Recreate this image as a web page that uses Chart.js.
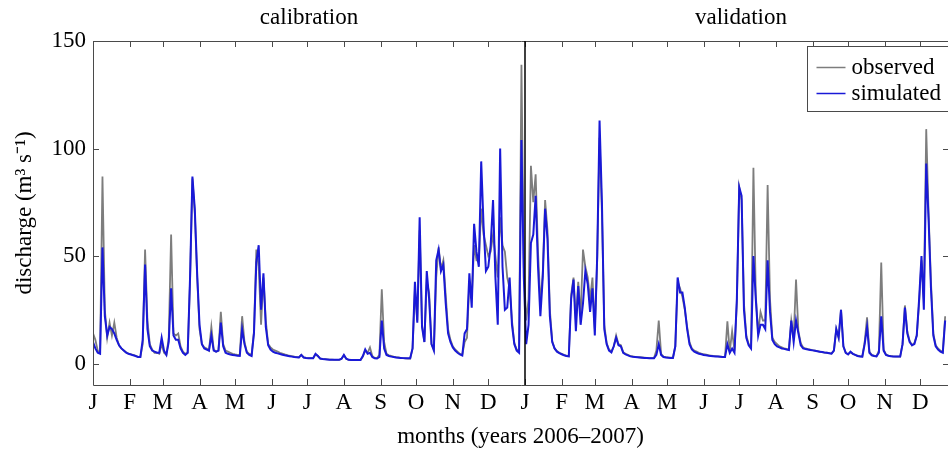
<!DOCTYPE html>
<html>
<head>
<meta charset="utf-8">
<script src="https://cdn.jsdelivr.net/npm/chart.js@4.4.1/dist/chart.umd.min.js"></script>
<style>
html, body { margin: 0; padding: 0; background: #fff; }
</style>
</head>
<body>
<canvas id="flowChart" width="948" height="453"></canvas>
<script>
// month tick labels and the day (from 1 Jan 2006) each month starts on
const monthLabels = ['J','F','M','A','M','J','J','A','S','O','N','D','J','F','M','A','M','J','J','A','S','O','N','D'];
const monthStartDays = [0,31,59,90,120,151,181,212,243,273,304,334,365,396,424,455,485,516,546,577,608,638,669,699];
const yTicks = [0, 50, 100, 150];
const periodLabels = ['calibration', 'validation'];
const splitDay = 365;
const sampleStep = 2; // days between values below

// discharge, one value every 2 days from 1 Jan 2006
const simulated = [
  10,7,5,4.5,54,22,13,17,16,14,
  11,8.5,7,6,5,4.5,4.2,3.8,3.5,3,
  3,11,46,16,8,6,5.5,5,5,12,
  6,4,10,35,13,11,11,7,5,4,
  5,40,87,72,42,18,9,7,6.5,6,
  13,6,5.5,6,19,8,5,4.5,4.2,4,
  3.8,3.6,3.5,16,9,5,4,3.5,14,47,
  55,25,42,17,8.5,6.5,5.5,5,4.7,4.4,
  4.1,3.8,3.6,3.4,3.2,3,2.9,2.8,4,2.8,
  2.6,2.5,2.5,2.5,4.5,3.5,2.3,2.1,2,1.9,
  1.8,1.8,1.7,1.7,1.7,2.2,4,2.2,1.7,1.6,
  1.6,1.6,1.6,1.6,3.5,6.5,4.5,5,3,2.4,
  2.3,3,20,7,4,3.5,3.2,3,2.8,2.7,
  2.6,2.5,2.4,2.4,2.4,7,38,19,68,17,
  10,43,30,9,6,48,53,43,46,28,
  14,10,7.5,6,5,4.2,3.7,14,16,42,
  26,65,52,45,94,64,43,45,55,76,
  40,18,100,45,25,26,40,18,9,6,
  5,104,40,9,18,56,60,78,45,22,
  40,72,58,22,10,7,5.5,4.8,4.3,3.8,
  3.5,3.3,30,39,15,36,18,28,43,37,
  24,35,13,50,113,75,16,9,6,5.2,
  8,12,8.5,8,5,4.2,3.8,3.3,3.1,3,
  2.9,2.8,2.7,2.6,2.6,2.5,2.5,2.5,4,9,
  4,3,2.8,2.7,2.6,2.6,8,40,33,33,
  26,16,9,6.5,5.5,5,4.5,4.3,4,3.8,
  3.6,3.5,3.4,3.3,3.2,3.1,3,3,9,5,
  7,5,30,82,78,25,12,8.5,7,50,
  30,13,18,18,16,48,24,11,9,8,
  7.5,7,6.8,6.5,6.3,20,10,20,14,8.5,
  7,6.7,6.5,6.3,6.1,5.9,5.7,5.5,5.3,5.1,
  5,4.8,4.6,6,16,12,25,8,5,4.2,
  5.5,4.5,4,3.5,3.3,3.2,9,17,5,3.8,
  3.5,3.3,5,22,6,4,3.6,3.4,3.3,3.2,
  3.2,3.2,9,26,14,10,8.5,9,13,30,
  50,25,93,67,35,13,8,6.5,5.5,5,
  20
];
const observed = [
  14,11,6,5,87,25,12,19,13,19,
  12,8.5,7,6,5.2,4.6,4.3,4,3.6,3.2,
  3,9,53,20,9,6.5,5,5,4.5,9,
  5,4,12,60,14,13,14,8,5.5,4.5,
  5,38,86,70,40,16,9,7.5,7,6,
  17,6.5,5.5,6,24,9,6,5.5,5,4.5,
  4.2,4,4,22,10,5.5,4.5,4,15,53,
  45,18,40,20,9,7.5,6.5,6,5.5,5,
  4.6,4.2,3.9,3.6,3.4,3.2,3,2.9,4,2.8,
  2.6,2.5,2.5,2.5,4.2,3.5,2.3,2.1,2,1.9,
  1.8,1.8,1.7,1.7,1.7,2.2,3.8,2.2,1.7,1.6,
  1.6,1.6,1.6,1.6,3.2,6,5,7.5,3.5,2.6,
  2.5,4,34.5,10,4.5,3.8,3.5,3.2,3,2.8,
  2.6,2.5,2.4,2.3,2.3,7,34,20,62,18,
  10,38,33,9,6.5,40,54,44,48,32,
  16,11,8,6.5,5.5,4.5,4,10,12,38,
  30,55,48,48,72,60,55,50,52,60,
  50,40,68,55,52,40,35,20,9.5,6.5,
  6,139,45,20,30,92,75,88,52,28,
  42,76,62,25,10.5,7,5.8,5,4.5,4,
  3.6,3.4,32,40,20,38,22,53,45,40,
  30,40,16,48,105,70,18,9.5,6.5,5.5,
  8,13,9,8.5,5.2,4.5,4,3.5,3.3,3.1,
  3,2.9,2.8,2.7,2.6,2.5,2.5,2.5,6,20,
  4.5,3.2,3,2.8,2.7,2.7,8,38,35,31,
  25,17,10,7,6,5.5,5,4.6,4.3,4.1,
  3.9,3.7,3.5,3.4,3.3,3.2,3.1,3,19.6,5.5,
  15,6,28,82,76,28,13,9,7.5,91,
  32,14,24,20,20,83,30,12,10,9,
  8,7.5,7,6.8,6.5,20,12,39,15,9.5,
  7.5,7,6.7,6.5,6.2,6,5.8,5.5,5.3,5.1,
  5,4.8,4.6,6,16,12,25,8,5,4.3,
  5.2,4.5,4,3.6,3.4,3.3,10,21.5,5.5,4,
  3.6,3.4,6,47,6.5,4.2,3.7,3.5,3.3,3.2,
  3.2,3.2,9,27,15,10.5,8.5,9.5,13,28,
  48,30,109,70,38,14,8.5,7,6,5.3,
  22
];

const FONT = '"Liberation Serif", "Times New Roman", serif';
const toPoints = arr => arr.map((v, i) => ({ x: i * sampleStep, y: v }));

// box, inward ticks, split line, period titles and legend (matlab look)
const framePlugin = {
  id: 'frame',
  afterDraw(chart) {
    const { ctx, chartArea: a, scales: { x, y } } = chart;
    const tl = 6;
    ctx.save();
    ctx.strokeStyle = '#4a4a4a';
    ctx.lineWidth = 1;
    ctx.beginPath();
    ctx.moveTo(a.right + 2, a.top + 0.5);
    ctx.lineTo(a.left + 0.5, a.top + 0.5);
    ctx.lineTo(a.left + 0.5, a.bottom + 0.5);
    ctx.lineTo(a.right + 2, a.bottom + 0.5);
    x.ticks.forEach(t => {
      const px = Math.round(x.getPixelForValue(t.value)) + 0.5;
      ctx.moveTo(px, a.bottom); ctx.lineTo(px, a.bottom - tl);
      ctx.moveTo(px, a.top); ctx.lineTo(px, a.top + tl);
    });
    y.ticks.forEach(t => {
      const py = Math.round(y.getPixelForValue(t.value)) + 0.5;
      ctx.moveTo(a.left, py); ctx.lineTo(a.left + tl, py);
      ctx.moveTo(a.right + 1, py); ctx.lineTo(a.right + 1 - tl, py);
    });
    ctx.stroke();

    const xs = x.getPixelForValue(splitDay);
    ctx.strokeStyle = '#000';
    ctx.lineWidth = 1.5;
    ctx.beginPath();
    ctx.moveTo(xs, a.top); ctx.lineTo(xs, a.bottom);
    ctx.stroke();

    ctx.fillStyle = '#000';
    ctx.font = '23px ' + FONT;
    ctx.textAlign = 'center';
    ctx.textBaseline = 'middle';
    ctx.fillText(periodLabels[0], x.getPixelForValue(splitDay / 2), 18);
    ctx.fillText(periodLabels[1], x.getPixelForValue(splitDay + splitDay / 2), 18);

    // legend box in the top right corner
    const bx = 807.5, by = 46.5, bh = 65;
    ctx.fillStyle = '#fff';
    ctx.fillRect(bx, by, 200, bh);
    ctx.strokeStyle = '#4a4a4a';
    ctx.lineWidth = 1;
    ctx.strokeRect(bx, by, 200, bh);
    const items = [chart.data.datasets[1], chart.data.datasets[0]];
    items.forEach((ds, k) => {
      const ly = by + 21 + k * 26;
      ctx.strokeStyle = ds.borderColor;
      ctx.lineWidth = 1.5;
      ctx.beginPath();
      ctx.moveTo(bx + 9, ly); ctx.lineTo(bx + 38, ly);
      ctx.stroke();
      ctx.fillStyle = '#000';
      ctx.textAlign = 'left';
      ctx.fillText(ds.label, bx + 44, ly);
    });
    ctx.restore();
  }
};

new Chart(document.getElementById('flowChart'), {
  type: 'line',
  data: {
    datasets: [{
      label: 'simulated',
      data: toPoints(simulated),
      borderColor: '#1919d7',
      borderWidth: 2,
      pointRadius: 0,
      order: 1
    }, {
      label: 'observed',
      data: toPoints(observed),
      borderColor: '#7d7d7d',
      borderWidth: 1.8,
      pointRadius: 0,
      order: 2
    }]
  },
  options: {
    responsive: false,
    animation: false,
    devicePixelRatio: 1,
    layout: { padding: { top: 41, right: 0, left: 0, bottom: 0 } },
    plugins: { legend: { display: false }, tooltip: { enabled: false } },
    scales: {
      x: {
        type: 'linear',
        min: 0,
        max: 722.4,
        afterBuildTicks: s => { s.ticks = monthStartDays.map(v => ({ value: v })); },
        afterFit: s => { s.height = 68; },
        grid: { display: false, drawTicks: false },
        border: { display: false },
        ticks: {
          autoSkip: false, maxRotation: 0, padding: 4, color: '#000',
          font: { family: FONT, size: 23 },
          callback: (v, i) => monthLabels[i]
        },
        title: {
          display: true, text: 'months (years 2006–2007)', color: '#000',
          font: { family: FONT, size: 23 }, padding: { top: 0, bottom: 2 }
        }
      },
      y: {
        min: -10,
        max: 150,
        afterBuildTicks: s => { s.ticks = yTicks.map(v => ({ value: v })); },
        afterFit: s => { s.width = 93; },
        grid: { display: false, drawTicks: false },
        border: { display: false },
        ticks: { padding: 7, color: '#000', font: { family: FONT, size: 23 } },
        title: {
          display: true, text: 'discharge (m³ s⁻¹)', color: '#000',
          font: { family: FONT, size: 23 }, padding: { top: 11, bottom: 0 }
        }
      }
    }
  },
  plugins: [framePlugin]
});
</script>
</body>
</html>
